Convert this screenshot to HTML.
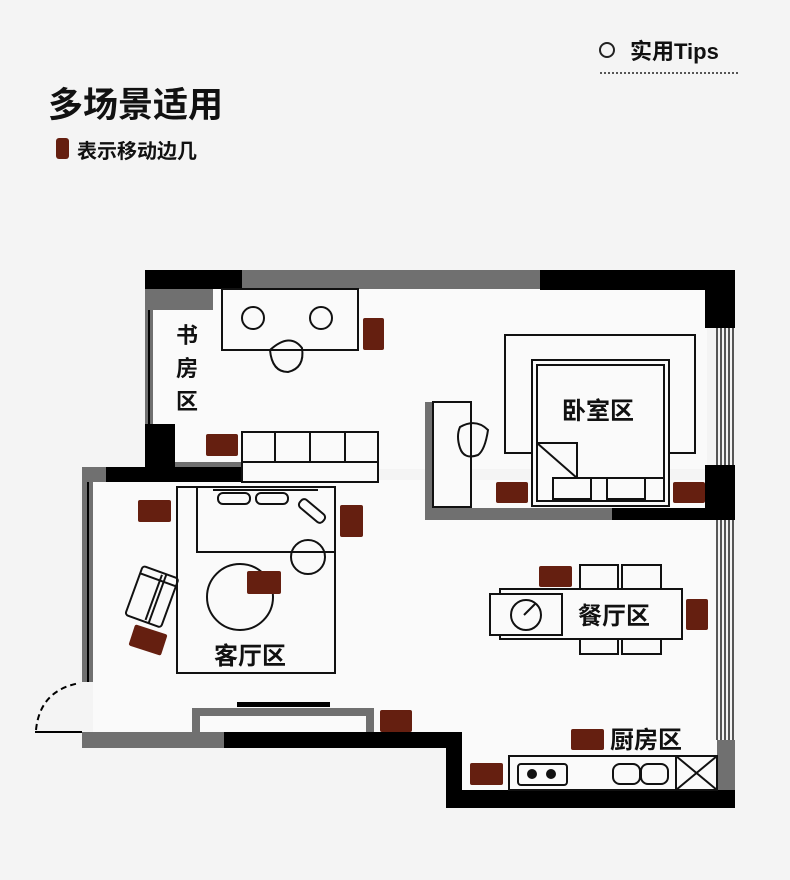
<!DOCTYPE html>
<html><head><meta charset="utf-8"><style>
html,body{margin:0;padding:0;background:#f4f4f4;}
svg{display:block;}
text{font-family:"Liberation Sans","Noto Sans CJK SC",sans-serif;font-weight:bold;fill:#111;}
</style></head><body>
<svg width="790" height="880" viewBox="0 0 790 880" xmlns="http://www.w3.org/2000/svg">
<rect width="790" height="880" fill="#f4f4f4"/>
<!-- header -->
<circle cx="607" cy="50" r="7" fill="none" stroke="#222" stroke-width="2"/>
<text x="630" y="59" font-size="22">实用Tips</text>
<line x1="600" y1="73" x2="740" y2="73" stroke="#555" stroke-width="2" stroke-dasharray="2,2"/>
<text x="48" y="117" font-size="35">多场景适用</text>
<rect x="56" y="138" width="13" height="21" rx="3" fill="#651f10"/>
<text x="77" y="158" font-size="20">表示移动边几</text>

<!-- floor interior -->
<g fill="#fafafa">
<rect x="152" y="289" width="555" height="180"/>
<rect x="93" y="480" width="625" height="255"/>
<rect x="462" y="735" width="256" height="56"/>
</g>

<!-- walls -->
<g>
<rect x="145" y="270" width="97" height="19" fill="#000"/>
<rect x="242" y="270" width="298" height="19" fill="#707070"/>
<rect x="540" y="270" width="195" height="20" fill="#000"/>
<rect x="145" y="289" width="68" height="21" fill="#707070"/>
<rect x="145" y="310" width="8" height="115" fill="#707070"/>
<line x1="149" y1="310" x2="149" y2="425" stroke="#000" stroke-width="2"/>
<rect x="145" y="424" width="30" height="45" fill="#000"/>
<rect x="105" y="467" width="137" height="15" fill="#000"/>
<rect x="175" y="462" width="67" height="5" fill="#707070"/>
<rect x="82" y="467" width="24" height="15" fill="#707070"/>
<rect x="82" y="480" width="11" height="202" fill="#707070"/>
<line x1="88" y1="482" x2="88" y2="682" stroke="#000" stroke-width="2"/>
<rect x="705" y="290" width="30" height="38" fill="#000"/>
<g stroke="#222" stroke-width="1.5">
<line x1="717" y1="328" x2="717" y2="465"/><line x1="721" y1="328" x2="721" y2="465"/><line x1="725" y1="328" x2="725" y2="465"/><line x1="729" y1="328" x2="729" y2="465"/><line x1="733" y1="328" x2="733" y2="465"/>
<line x1="717" y1="520" x2="717" y2="740"/><line x1="721" y1="520" x2="721" y2="740"/><line x1="725" y1="520" x2="725" y2="740"/><line x1="729" y1="520" x2="729" y2="740"/><line x1="733" y1="520" x2="733" y2="740"/>
</g>
<rect x="705" y="465" width="30" height="55" fill="#000"/>
<rect x="425" y="508" width="187" height="12" fill="#707070"/>
<rect x="612" y="508" width="123" height="12" fill="#000"/>
<rect x="425" y="402" width="8" height="110" fill="#707070"/>
<rect x="717" y="740" width="18" height="50" fill="#707070"/>
<rect x="446" y="790" width="289" height="18" fill="#000"/>
<rect x="446" y="732" width="16" height="76" fill="#000"/>
<rect x="224" y="732" width="238" height="16" fill="#000"/>
<rect x="82" y="732" width="142" height="16" fill="#707070"/>
<line x1="35" y1="732" x2="82" y2="732" stroke="#000" stroke-width="2"/>
<path d="M36 730 Q40 690 80 683" fill="none" stroke="#000" stroke-width="2" stroke-dasharray="6,4"/>
</g>

<!-- study -->
<g fill="none" stroke="#111" stroke-width="2">
<rect x="222" y="289" width="136" height="61"/>
<circle cx="253" cy="318" r="11"/><circle cx="321" cy="318" r="11"/>
<path d="M270 350 Q290 332 302 348 Q305 368 288 372 Q272 372 270 350 Z"/>
<rect x="242" y="432" width="136" height="50" fill="#fafafa"/>
<line x1="242" y1="462" x2="378" y2="462"/>
<line x1="275" y1="432" x2="275" y2="462"/><line x1="310" y1="432" x2="310" y2="462"/><line x1="345" y1="432" x2="345" y2="462"/>
</g>
<text x="176" y="343" font-size="22">书</text>
<text x="176" y="376" font-size="22">房</text>
<text x="176" y="409" font-size="22">区</text>

<!-- bedroom -->
<g fill="none" stroke="#111" stroke-width="2">
<rect x="433" y="402" width="38" height="105" fill="#fafafa"/>
<path d="M460 427 Q476 418 488 430 Q485 450 478 455 Q464 460 460 448 Q456 436 460 427 Z"/>
<rect x="505" y="335" width="190" height="118"/>
<rect x="532" y="360" width="137" height="146" fill="#fafafa"/>
<rect x="537" y="365" width="127" height="136"/>
<path d="M537 443 L577 443 L577 478 L664 478"/>
<line x1="537" y1="443" x2="577" y2="478"/>
<rect x="553" y="478" width="38" height="21"/>
<rect x="607" y="478" width="38" height="21"/>
</g>
<text x="562" y="419" font-size="24">卧室区</text>

<!-- living -->
<g fill="none" stroke="#111" stroke-width="2">
<rect x="177" y="487" width="158" height="186"/>
<rect x="197" y="487" width="138" height="65"/>
<line x1="213" y1="490" x2="318" y2="490"/>
<rect x="218" y="493" width="32" height="11" rx="5"/>
<rect x="256" y="493" width="32" height="11" rx="5"/>
<rect x="297" y="506" width="30" height="10" rx="4" transform="rotate(40 312 511)"/>
<circle cx="240" cy="597" r="33"/>
<circle cx="308" cy="557" r="17"/>
<g transform="rotate(20 150 596)">
<rect x="133" y="570" width="38" height="52" rx="3"/>
<line x1="158" y1="570" x2="158" y2="622"/><line x1="154" y1="572" x2="154" y2="620"/>
<line x1="133" y1="578" x2="171" y2="578"/>
</g>
<rect x="192" y="708" width="182" height="24" fill="#707070" stroke="none"/>
<rect x="200" y="716" width="166" height="16" fill="#fafafa" stroke="none"/>
<rect x="237" y="702" width="93" height="5" fill="#000" stroke="none"/>
</g>
<text x="214" y="664" font-size="24">客厅区</text>

<!-- dining -->
<g fill="#fafafa" stroke="#111" stroke-width="2">
<rect x="580" y="565" width="38" height="89"/>
<rect x="622" y="565" width="39" height="89"/>
<rect x="500" y="589" width="182" height="50"/>
<rect x="490" y="594" width="72" height="41"/>
<circle cx="526" cy="615" r="15" fill="none"/>
<line x1="524" y1="615" x2="536" y2="603"/>
</g>
<text x="578" y="624" font-size="24">餐厅区</text>

<!-- kitchen -->
<g fill="#fafafa" stroke="#111" stroke-width="2">
<rect x="509" y="756" width="208" height="34"/>
<rect x="518" y="764" width="49" height="21" rx="3"/>
<circle cx="532" cy="774" r="4" fill="#111"/><circle cx="551" cy="774" r="4" fill="#111"/>
<rect x="613" y="764" width="27" height="20" rx="7"/>
<rect x="641" y="764" width="27" height="20" rx="7"/>
<rect x="676" y="756" width="41" height="34"/>
<line x1="676" y1="756" x2="717" y2="790"/><line x1="717" y1="756" x2="676" y2="790"/>
</g>
<text x="610" y="748" font-size="24">厨房区</text>

<!-- movable side tables -->
<g fill="#651f10">
<rect x="363" y="318" width="21" height="32" rx="2"/>
<rect x="206" y="434" width="32" height="22" rx="2"/>
<rect x="496" y="482" width="32" height="21" rx="2"/>
<rect x="673" y="482" width="32" height="21" rx="2"/>
<rect x="138" y="500" width="33" height="22" rx="2"/>
<rect x="340" y="505" width="23" height="32" rx="2"/>
<rect x="247" y="571" width="34" height="23" rx="2"/>
<rect x="131" y="629" width="34" height="22" rx="2" transform="rotate(18 148 640)"/>
<rect x="380" y="710" width="32" height="22" rx="2"/>
<rect x="539" y="566" width="33" height="21" rx="2"/>
<rect x="686" y="599" width="22" height="31" rx="2"/>
<rect x="571" y="729" width="33" height="21" rx="2"/>
<rect x="470" y="763" width="33" height="22" rx="2"/>
</g>
</svg>
</body></html>
